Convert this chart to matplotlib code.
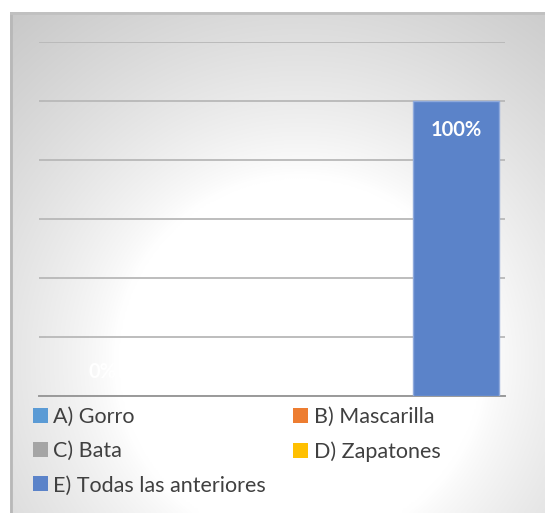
import numpy as np
import matplotlib.pyplot as plt
from matplotlib.patches import Patch

series = ["A) Gorro", "B) Mascarilla", "C) Bata", "D) Zapatones", "E) Todas las anteriores"]
values = [0.0, 0.0, 0.0, 0.0, 1.0]
colors = ["#5B9BD5", "#ED7D31", "#A5A5A5", "#FFC000", "#5B83C9"]

W, H = 545, 513
fig = plt.figure(figsize=(W / 100, H / 100), dpi=100)
plt.rcParams['font.family'] = ['Lato', 'DejaVu Sans']

# radial gradient panel (pixel coordinates)
bg = fig.add_axes([10 / W, 0, (W - 10) / W, (H - 12) / H])
yy, xx = np.mgrid[12:513:2, 10:545:2]
d = np.hypot(xx - 300, yy - 360)
shade = 1.0 - 0.22 * np.clip((d - 185) / 275, 0, 1) ** 0.8
bg.imshow(np.dstack([shade, shade, shade]), extent=[10, 545, 513, 12], aspect='auto',
          interpolation='bicubic', vmin=0, vmax=1)
bg.set_xlim(10, 545)
bg.set_ylim(513, 12)
bg.axis('off')
bg.plot([11, 11], [12, 513], color='#b8b8b8', lw=2)
bg.plot([10, 545], [13, 13], color='#c0c0c0', lw=2)

# plot area
ax = fig.add_axes([39 / W, (H - 396) / H, 466 / W, 354 / H])
ax.set_facecolor('none')
x = np.arange(len(series))
ax.bar(x, values, width=0.975, color=colors, edgecolor=['none'] * 4 + ['#8FAADC'],
       linewidth=1, zorder=3)
ax.set_xlim(-0.725, 4.555)
ax.set_ylim(0, 1.2)
ax.set_yticks(np.arange(0, 1.21, 0.2))
ax.grid(axis='y', color='#b8b8b8', lw=1.3, zorder=0)
ax.tick_params(left=False, bottom=False, labelleft=False, labelbottom=False)
for s in ['left', 'right', 'top']:
    ax.spines[s].set_visible(False)
ax.spines['bottom'].set_color('#9a9a9a')
ax.spines['bottom'].set_linewidth(1.4)

for xi, v in zip(x, values):
    off = -21 if v > 0 else 17
    ax.annotate(f"{v:.0%}", (xi, v), xytext=(0, off), textcoords='offset points',
                ha='center', va='center', color='white', fontsize=14.5, fontweight='bold', zorder=4)

# legend
order = [0, 2, 4, 1, 3]
handles = [Patch(facecolor=colors[i], edgecolor='none', label=series[i]) for i in order]
leg = fig.legend(handles=handles, loc='upper left', bbox_to_anchor=(33 / W, (H - 407) / H),
                 ncol=2, frameon=False, fontsize=15.5, handlelength=0.7, handleheight=0.7,
                 handletextpad=0.25, labelspacing=0.66, columnspacing=1.25,
                 borderaxespad=0, borderpad=0)
for t in leg.get_texts():
    t.set_color('#404040')

fig.savefig("out.png", dpi=100)
